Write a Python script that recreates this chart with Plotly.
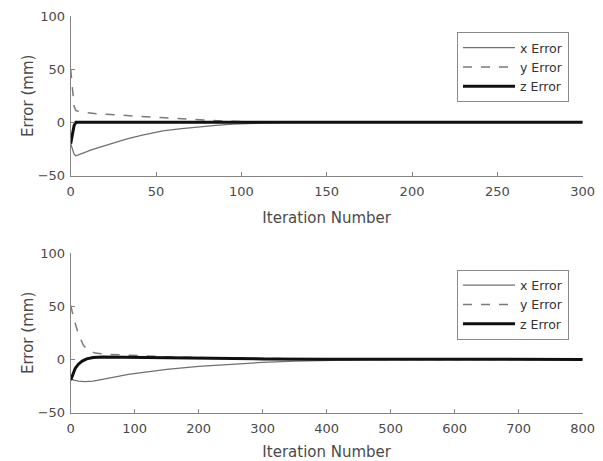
import plotly.graph_objects as go

# ---- data: top panel (300 iterations) ----
top_x_iter = [0, 1, 2, 3, 5, 8, 12, 18, 25, 33, 42, 54, 65, 75, 85, 95, 105, 115, 130, 300]
top_x_err = [-20, -26, -30, -31.5, -30.5, -28.5, -26, -23, -19.5, -15.5, -12, -8, -6, -4.2, -2.8, -1.7, -1, -0.5, 0, 0]
top_y_iter = [0, 1, 2, 3, 6, 15, 33, 52, 72, 92, 110, 130, 300]
top_y_err = [50, 30, 15, 11, 10, 8, 6.3, 4.2, 2.5, 1, 0.3, 0, 0]
top_z_iter = [0, 1, 2, 3, 300]
top_z_err = [-20, -12, -3, 0, 0]

# ---- data: bottom panel (800 iterations) ----
bot_x_iter = [0, 5, 12, 22, 35, 50, 70, 90, 120, 150, 200, 250, 300, 350, 400, 450, 500, 800]
bot_x_err = [-18, -19.5, -20.5, -21, -20.5, -19, -16.5, -14, -11.5, -9.3, -6.5, -4.5, -2.8, -1.6, -0.8, -0.3, 0, 0]
bot_y_iter = [0, 5, 12, 20, 28, 38, 60, 100, 150, 200, 300, 400, 500, 800]
bot_y_err = [51, 38, 24, 13, 8.5, 6, 4.8, 3.5, 2.5, 1.8, 0.8, 0.3, 0, 0]
bot_z_iter = [0, 3, 7, 12, 18, 25, 35, 50, 100, 200, 300, 400, 500, 800]
bot_z_err = [-19.5, -14, -8.5, -4.5, -1.5, 0.5, 1.8, 2.2, 1.8, 1, 0.5, 0.2, 0, 0]

series_names = ["x Error", "y Error", "z Error"]
y_ticks = [-50, 0, 50, 100]
top_x_ticks = [0, 50, 100, 150, 200, 250, 300]
bot_x_ticks = [0, 100, 200, 300, 400, 500, 600, 700, 800]

FONT = "DejaVu Sans"
AX = "#858585"
TXT = "#4a4a4a"

styles = [
    dict(color="#707070", width=1.3),
    dict(color="#7a7a7a", width=1.5, dash="dash"),
    dict(color="#101010", width=3),
]

fig = go.Figure()
panels = [
    ([top_x_iter, top_y_iter, top_z_iter], [top_x_err, top_y_err, top_z_err], "x", "y", "legend"),
    ([bot_x_iter, bot_y_iter, bot_z_iter], [bot_x_err, bot_y_err, bot_z_err], "x2", "y2", "legend2"),
]
for xs_list, ys_list, xa, ya, lg in panels:
    for name, xs, ys, st in zip(series_names, xs_list, ys_list, styles):
        fig.add_trace(go.Scatter(x=xs, y=ys, mode="lines", name=name, line=st,
                                 xaxis=xa, yaxis=ya, legend=lg))

W, H = 603, 461
x0, x1 = 70.7 / W, 582.7 / W
common_axis = dict(showline=True, linecolor=AX, linewidth=1, ticks="inside", ticklen=4,
                   tickcolor=AX, showgrid=False, zeroline=False, mirror=False, automargin=False,
                   tickfont=dict(family=FONT, size=13, color=TXT))
xcommon = dict(ticklabelstandoff=4,
               title=dict(text="Iteration Number", font=dict(size=15, color=TXT), standoff=14))
ycommon = dict(ticklabelstandoff=2,
               title=dict(text="Error (mm)", font=dict(size=15, color=TXT), standoff=0))
leg = dict(xanchor="left", yanchor="top", bordercolor="#8a8a8a", borderwidth=1, bgcolor="white",
           font=dict(family=FONT, size=12.5, color="#333"), itemwidth=52, tracegroupgap=0)
fig.update_layout(
    width=W, height=H, margin=dict(l=0, r=0, t=0, b=0),
    paper_bgcolor="white", plot_bgcolor="white",
    font=dict(family=FONT, color=TXT),
    xaxis=dict(domain=[x0, x1], range=[0, 300], tickvals=top_x_ticks, anchor="y",
               **xcommon, **common_axis),
    yaxis=dict(domain=[1 - 175.5 / H, 1 - 16 / H], range=[-50, 100], tickvals=y_ticks, anchor="x",
               **ycommon, **common_axis),
    xaxis2=dict(domain=[x0, x1], range=[0, 800], tickvals=bot_x_ticks, anchor="y2",
                **xcommon, **common_axis),
    yaxis2=dict(domain=[1 - 412.5 / H, 1 - 253.3 / H], range=[-50, 100], tickvals=y_ticks, anchor="x2",
                **ycommon, **common_axis),
    legend=dict(x=457 / W, y=1 - 32 / H, **leg),
    legend2=dict(x=457 / W, y=1 - 269.5 / H, **leg),
    showlegend=True,
)
fig.write_html("out.html", config={"displayModeBar": False},
               post_script="document.body.style.margin='0';document.body.style.overflow='hidden';")
